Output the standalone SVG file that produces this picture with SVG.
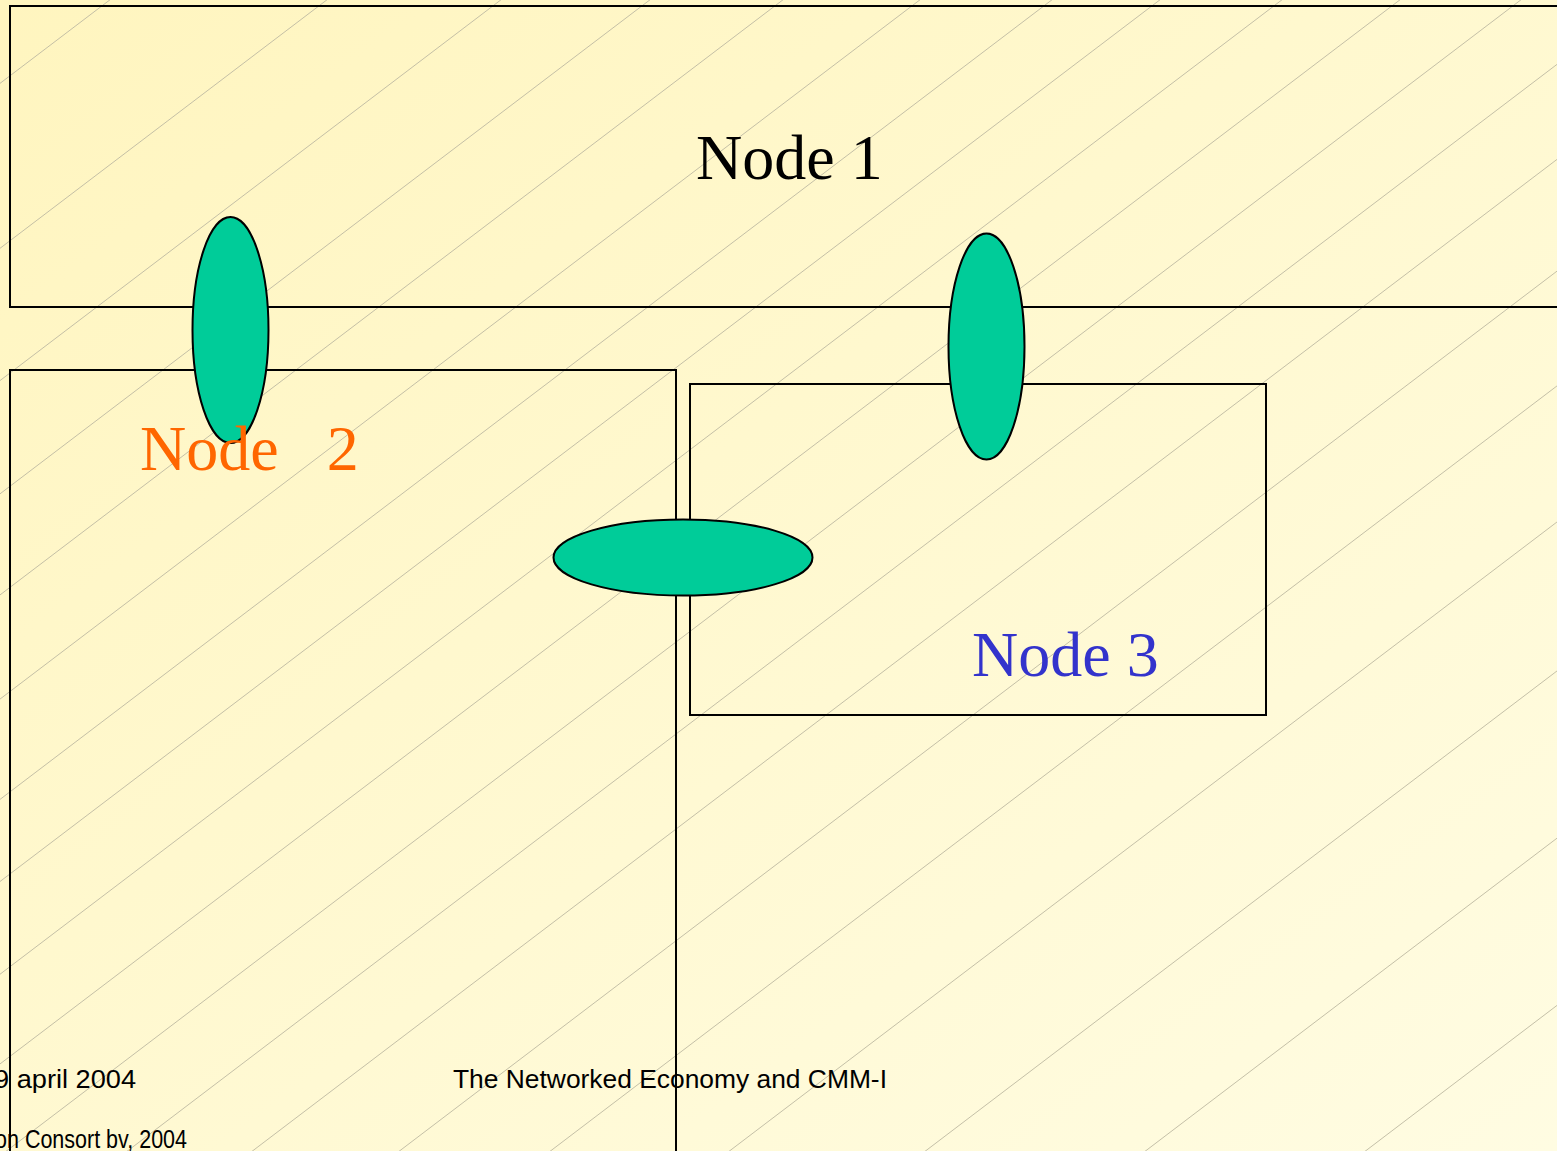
<svg xmlns="http://www.w3.org/2000/svg" width="1557" height="1151" viewBox="0 0 1557 1151">
  <defs>
    <linearGradient id="bg" x1="0" y1="0" x2="1" y2="1">
      <stop offset="0" stop-color="#FFF5BF"/>
      <stop offset="1" stop-color="#FFFCE2"/>
    </linearGradient>
    <style>
      .hatch line { stroke: #bdb9a2; stroke-width: 0.9; }
      .box { fill: none; stroke: #000; stroke-width: 2; }
      .port { fill: #00CC99; stroke: #000; stroke-width: 2; }
      .lbl { font-family: "Liberation Serif", "Times New Roman", serif; font-size: 64px; }
      .foot { font-family: "Liberation Sans", Arial, sans-serif; fill: #000; }
    </style>
  </defs>

  <rect x="0" y="0" width="1557" height="1151" fill="url(#bg)"/>

  <g class="hatch">
    <line x1="136" y1="-20" x2="-1469" y2="1200"/>
    <line x1="353" y1="-20" x2="-1252" y2="1200"/>
    <line x1="527" y1="-20" x2="-1078" y2="1200"/>
    <line x1="676" y1="-20" x2="-929" y2="1200"/>
    <line x1="809" y1="-20" x2="-796" y2="1200"/>
    <line x1="946" y1="-20" x2="-659" y2="1200"/>
    <line x1="1078" y1="-20" x2="-527" y2="1200"/>
    <line x1="1186" y1="-20" x2="-419" y2="1200"/>
    <line x1="1308" y1="-20" x2="-297" y2="1200"/>
    <line x1="1426" y1="-20" x2="-179" y2="1200"/>
    <line x1="1547" y1="-20" x2="-58" y2="1200"/>
    <line x1="1668" y1="-20" x2="63" y2="1200"/>
    <line x1="1793" y1="-20" x2="188" y2="1200"/>
    <line x1="1940" y1="-20" x2="335" y2="1200"/>
    <line x1="2091" y1="-20" x2="486" y2="1200"/>
    <line x1="2270" y1="-20" x2="665" y2="1200"/>
    <line x1="2466" y1="-20" x2="861" y2="1200"/>
    <line x1="2686" y1="-20" x2="1081" y2="1200"/>
    <line x1="2906" y1="-20" x2="1301" y2="1200"/>
    <line x1="3126" y1="-20" x2="1521" y2="1200"/>
  </g>

  <g id="node1">
    <rect class="box" x="10" y="6" width="1570" height="301"/>
  </g>
  <g id="node2">
    <rect class="box" x="10" y="370" width="666" height="800"/>
  </g>
  <g id="node3">
    <rect class="box" x="690" y="384" width="576" height="331"/>
  </g>

  <g id="connectors">
    <g id="port-1-2"><ellipse class="port" cx="230.5" cy="330" rx="38" ry="113"/></g>
    <g id="port-1-3"><ellipse class="port" cx="986.5" cy="346.5" rx="38" ry="113"/></g>
    <g id="port-2-3"><ellipse class="port" cx="683" cy="557.5" rx="129.5" ry="38"/></g>
  </g>

  <g id="labels">
    <text class="lbl" x="696" y="179" fill="#000">Node 1</text>
    <text class="lbl" x="140" y="470" fill="#FF6600" xml:space="preserve" style="white-space:pre">Node   2</text>
    <text class="lbl" x="972" y="676" fill="#3333CC">Node 3</text>
  </g>

  <g id="footer">
    <text class="foot" x="-6" y="1088" font-size="25" textLength="142" lengthAdjust="spacingAndGlyphs">9 april 2004</text>
    <text class="foot" x="453" y="1088" font-size="25" textLength="434" lengthAdjust="spacingAndGlyphs">The Networked Economy and CMM-I</text>
    <text class="foot" x="-5" y="1148" font-size="26" textLength="192" lengthAdjust="spacingAndGlyphs">on Consort bv, 2004</text>
  </g>
</svg>
